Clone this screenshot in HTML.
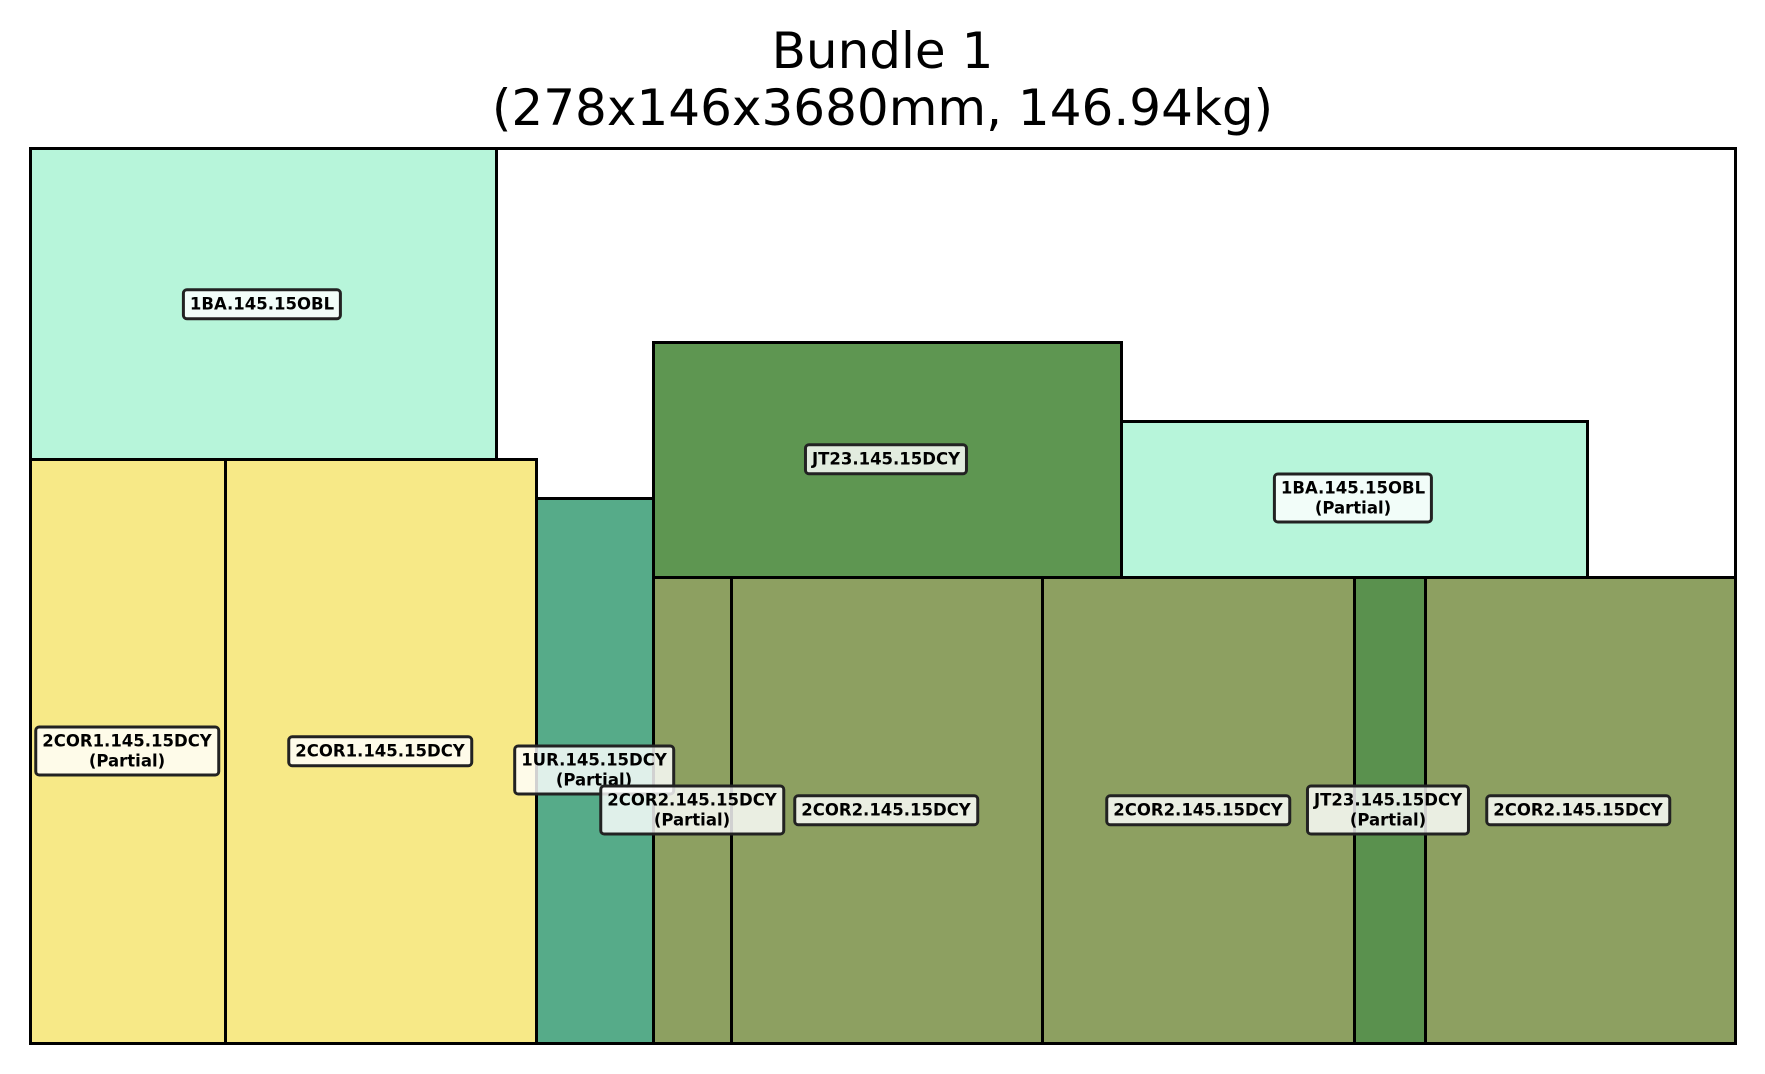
<!DOCTYPE html>
<html><head><meta charset="utf-8"><style>
body{margin:0;width:1765px;height:1074px;background:#fff;position:relative;overflow:hidden;font-family:"DejaVu Sans","Liberation Sans",sans-serif}
.t{position:absolute;left:0;width:1765px;text-align:center;font-size:50px;color:#000;line-height:56px}
.r{position:absolute;box-sizing:border-box;border:3.5px solid #000}
.l{position:absolute;transform:translate(-50%,-50%);background:rgba(255,255,255,0.82);border:3.5px solid #222;border-radius:5px;padding:3px 5px;font-weight:bold;font-size:16.5px;line-height:19.5px;text-align:center;white-space:nowrap;color:#000}
</style></head><body>
<div class="t" style="top:23px">Bundle 1</div>
<div class="t" style="top:80px">(278x146x3680mm, 146.94kg)</div>
<div class="r" style="left:29px;top:147px;width:1708px;height:898px;border-width:3px"></div>
<div class="r" style="left:29px;top:147px;width:469px;height:314px;background:#b7f5da"></div>
<div class="r" style="left:29px;top:458px;width:198px;height:587px;background:#f7e987"></div>
<div class="r" style="left:224px;top:458px;width:314px;height:587px;background:#f7e987"></div>
<div class="r" style="left:535px;top:497px;width:120px;height:548px;background:#56ab89"></div>
<div class="r" style="left:652px;top:341px;width:471px;height:238px;background:#5e9651"></div>
<div class="r" style="left:1120px;top:420px;width:469px;height:159px;background:#b7f5da"></div>
<div class="r" style="left:652px;top:576px;width:81px;height:469px;background:#8da061"></div>
<div class="r" style="left:730px;top:576px;width:314px;height:469px;background:#8da061"></div>
<div class="r" style="left:1041px;top:576px;width:315px;height:469px;background:#8da061"></div>
<div class="r" style="left:1353px;top:576px;width:74px;height:469px;background:#5a914e"></div>
<div class="r" style="left:1424px;top:576px;width:313px;height:469px;background:#8da061"></div>
<div class="l" style="left:262px;top:304px">1BA.145.15OBL</div>
<div class="l" style="left:886px;top:459px">JT23.145.15DCY</div>
<div class="l" style="left:1353px;top:498px">1BA.145.15OBL<br>(Partial)</div>
<div class="l" style="left:127px;top:751px">2COR1.145.15DCY<br>(Partial)</div>
<div class="l" style="left:380px;top:751px">2COR1.145.15DCY</div>
<div class="l" style="left:594px;top:770px">1UR.145.15DCY<br>(Partial)</div>
<div class="l" style="left:692px;top:810px">2COR2.145.15DCY<br>(Partial)</div>
<div class="l" style="left:886px;top:810px">2COR2.145.15DCY</div>
<div class="l" style="left:1198px;top:810px">2COR2.145.15DCY</div>
<div class="l" style="left:1388px;top:810px">JT23.145.15DCY<br>(Partial)</div>
<div class="l" style="left:1578px;top:810px">2COR2.145.15DCY</div>
</body></html>
